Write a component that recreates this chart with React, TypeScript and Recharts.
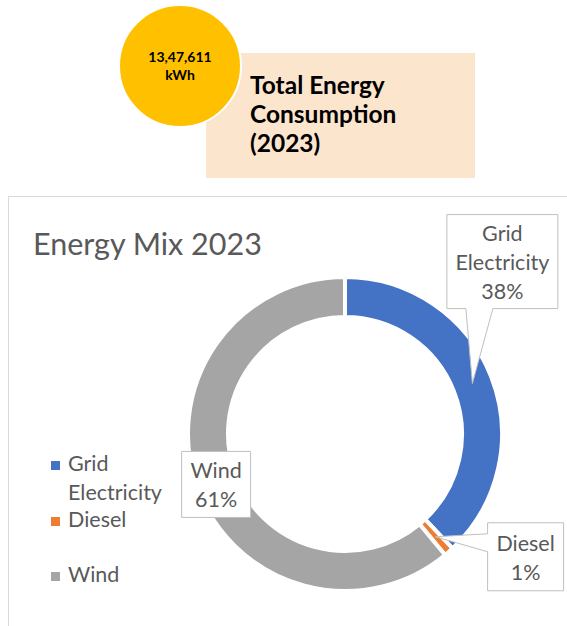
import React from "react";
import { PieChart, Pie, Cell, Legend } from "recharts";

// dados do gráfico
const sources = ["Grid Electricity", "Diesel", "Wind"];
const shares = [38, 1, 61];
const sliceColors = ["#4472C4", "#ED7D31", "#A5A5A5"];

const totalConsumption = "13,47,611";
const totalUnit = "kWh";
const headerLines = ["Total Energy", "Consumption", "(2023)"];
const chartTitle = "Energy Mix 2023";

const pieData = sources.map((name, i) => ({ name, value: shares[i], fill: sliceColors[i] }));

const FONT = "Lato, 'Open Sans', sans-serif";
const TEXT = "#595959";
const RADIAN = Math.PI / 180;

// caixas dos rótulos: deslocamento do centro da caixa em relação ao ponto no anel
const callouts = [
  { dx: 30, dy: -122, w: 111, h: 94, side: "bottom", from: 19, to: 46 },
  { dx: 90, dy: 20, w: 76, h: 68, side: "left", from: 11, to: 29 },
  { dx: 0, dy: 4, w: 69, h: 66, side: "none", from: 0, to: 0 },
];

const renderLabel = (props: any) => {
  const { cx, cy, midAngle, innerRadius, outerRadius, percent, index, name } = props;
  const r = (innerRadius + outerRadius) / 2;
  const tx = cx + r * Math.cos(-midAngle * RADIAN);
  const ty = cy + r * Math.sin(-midAngle * RADIAN);
  const c = callouts[index];
  const x0 = tx + c.dx - c.w / 2;
  const y0 = ty + c.dy - c.h / 2;
  const x1 = x0 + c.w;
  const y1 = y0 + c.h;
  let d = `M${x0},${y0}H${x1}V${y1}H${x0}Z`;
  if (c.side === "bottom") {
    d = `M${x0},${y0}H${x1}V${y1}H${x0 + c.to}L${tx},${ty}L${x0 + c.from},${y1}H${x0}Z`;
  } else if (c.side === "left") {
    d = `M${x0},${y0}H${x1}V${y1}H${x0}V${y0 + c.to}L${tx},${ty}L${x0},${y0 + c.from}Z`;
  }
  const lines = [...String(name).split(" "), `${Math.round(percent * 100)}%`];
  const midY = y0 + c.h / 2;
  return (
    <g key={`label-${index}`}>
      <path d={d} fill="#fff" stroke="#bfbfbf" strokeWidth={1} />
      {lines.map((t, i) => (
        <text
          key={i}
          x={x0 + c.w / 2}
          y={midY + (i - (lines.length - 1) / 2) * 29 + 8.5}
          textAnchor="middle"
          fontFamily={FONT}
          fontSize={21.5}
          fill={TEXT}
        >
          {t}
        </text>
      ))}
    </g>
  );
};

// legenda na ordem dos dados
const renderLegend = () => (
  <div style={{ fontFamily: FONT, fontSize: 21.5, color: TEXT, lineHeight: "29px", textAlign: "left" }}>
    {sources.map((name, i) => (
      <div key={name} style={{ position: "relative", height: 55.5, paddingLeft: 17, width: 105 }}>
        <span
          style={{
            position: "absolute",
            left: 0,
            top: 12,
            width: 9,
            height: 9,
            background: sliceColors[i],
          }}
        />
        {name}
      </div>
    ))}
  </div>
);

const App: React.FC = () => {
  return (
    <div
      style={{
        position: "absolute",
        left: 0,
        top: 0,
        width: 567,
        height: 626,
        overflow: "hidden",
        background: "#fff",
        fontFamily: FONT,
      }}
    >
      {/* cabeçalho */}
      <div style={{ position: "absolute", left: 206, top: 53, width: 269, height: 125, background: "#FCE5CD" }}>
        <div
          style={{
            position: "absolute",
            left: 44,
            top: 17,
            fontSize: 24.5,
            fontWeight: 700,
            lineHeight: "29px",
            color: "#000",
            whiteSpace: "nowrap",
          }}
        >
          {headerLines.map((l) => (
            <div key={l}>{l}</div>
          ))}
        </div>
      </div>
      <div
        style={{
          position: "absolute",
          left: 118,
          top: 4,
          width: 124,
          height: 124,
          boxSizing: "border-box",
          border: "2px solid #fff",
          borderRadius: "50%",
          background: "#FFC000",
          display: "flex",
          flexDirection: "column",
          alignItems: "center",
          justifyContent: "center",
          fontSize: 14,
          fontWeight: 700,
          lineHeight: "18px",
          color: "#000",
        }}
      >
        <div>{totalConsumption}</div>
        <div>{totalUnit}</div>
      </div>

      {/* área do gráfico */}
      <div
        style={{
          position: "absolute",
          left: 8,
          top: 196,
          width: 600,
          height: 500,
          border: "1px solid #d9d9d9",
        }}
      />
      <div
        style={{
          position: "absolute",
          left: 33,
          top: 225,
          fontSize: 30.5,
          fontWeight: 400,
          lineHeight: "36px",
          color: TEXT,
          whiteSpace: "nowrap",
        }}
      >
        {chartTitle}
      </div>
      <div style={{ position: "absolute", left: 0, top: 0 }}>
        <PieChart width={567} height={626} margin={{ top: 0, right: 0, bottom: 0, left: 0 }}>
          <Pie
            data={pieData}
            dataKey="value"
            nameKey="name"
            cx={345}
            cy={434}
            innerRadius={117}
            outerRadius={157}
            startAngle={90}
            endAngle={-270}
            stroke="#fff"
            strokeWidth={4}
            label={renderLabel}
            labelLine={false}
            isAnimationActive={false}
          >
            {pieData.map((entry, index) => (
              <Cell key={`cell-${index}`} fill={entry.fill} />
            ))}
          </Pie>
          <Legend
            layout="vertical"
            verticalAlign="middle"
            align="center"
            content={renderLegend}
            wrapperStyle={{ position: "absolute", left: 51, top: 449, width: 130 }}
          />
        </PieChart>
      </div>
    </div>
  );
};

export default App;
